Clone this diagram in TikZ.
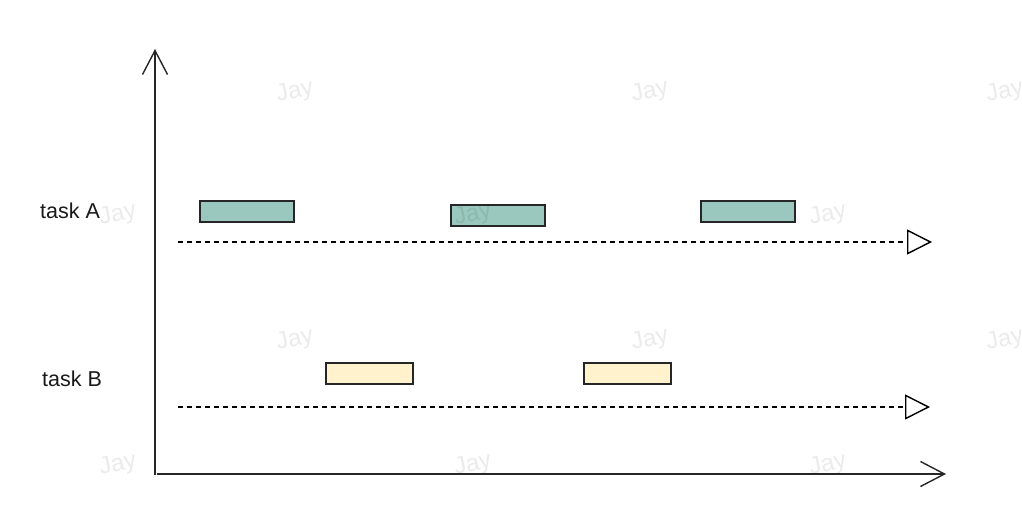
\documentclass[tikz,border=0pt]{standalone}
\usepackage{fontspec}
\setmainfont{Liberation Sans}
\usetikzlibrary{arrows.meta}
\definecolor{boxgreen}{HTML}{9AC8BF}
\definecolor{boxyellow}{HTML}{FFF2CC}
\begin{document}
\begin{tikzpicture}[x=1pt,y=-1pt,
  taskbox/.style={draw=black!85,line width=1.5pt,minimum width=94pt,minimum height=21pt,inner sep=0pt,anchor=north west},
  greenbox/.style={taskbox,fill=boxgreen},
  yellowbox/.style={taskbox,fill=boxyellow,minimum width=87pt},
  axis/.style={draw=black!85,line width=1.4pt,-{Straight Barb[length=24pt,width=25pt,line width=1.4pt]}},
  timeline/.style={draw=black,line width=1.3pt,dash pattern=on 5pt off 4pt,-{Triangle[open,length=25pt,width=25pt,line width=1.4pt,sep=0pt]}},
  tasklabel/.style={font=\fontsize{21.5pt}{24pt}\selectfont,text=black!90},
  watermark/.style={font=\fontsize{24pt}{28pt}\selectfont,text=black,rotate=12,opacity=0.08,inner sep=0pt}
]
\useasboundingbox (0,0) rectangle (1022,530);
% axes
\coordinate (origin) at (155,475);
\coordinate (ytop) at (155,49);
\coordinate (xstart) at (157,474);
\coordinate (xend) at (946,474);
\draw[axis] (origin) -- (ytop);
\draw[axis] (xstart) -- (xend);
% timelines
\coordinate (aStart) at (178,242);
\coordinate (aEnd) at (932,242);
\coordinate (bStart) at (178,407);
\coordinate (bEnd) at (930,407);
\draw[timeline] (aStart) -- (aEnd);
\draw[timeline] (bStart) -- (bEnd);
% task boxes
\node[greenbox] (a1) at (199,200) {};
\node[greenbox] (a2) at (450,204) {};
\node[greenbox] (a3) at (700,200) {};
\node[yellowbox] (b1) at (325,362) {};
\node[yellowbox] (b2) at (583,362) {};
% labels
\node[tasklabel] (labA) at (70,211) {task A};
\node[tasklabel] (labB) at (72,379) {task B};
% watermarks
\foreach \wx/\wy [count=\i] in {295/92,650/92,1005/92,118/215,473/215,828/215,295/340,650/340,1005/340,118/465,473/465,828/465}{
  \node[watermark] (wm\i) at (\wx,\wy) {Jay};
}
\end{tikzpicture}
\end{document}
